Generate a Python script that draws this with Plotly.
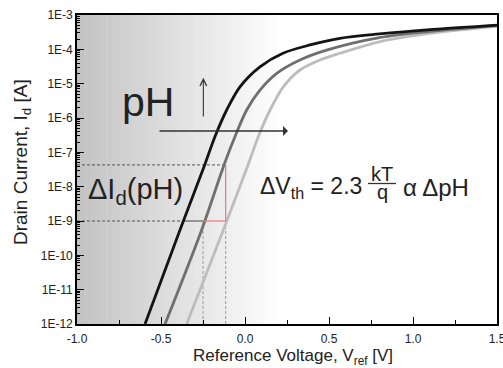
import plotly.graph_objects as go

# ---------------- data ----------------
v_black = [-0.595, -0.387, -0.24, -0.179, -0.109, -0.030, 0.089, 0.226, 0.387, 0.565, 0.80, 1.12, 1.50]
i_black = [1e-12, 5.5e-10, 4.3e-8, 2.85e-7, 1.71e-6, 8.1e-6, 3.1e-5, 7.7e-5, 1.34e-4, 2.09e-4, 2.8e-4, 3.8e-4, 5.1e-4]

v_dark = [-0.476, -0.258, -0.125, -0.060, 0.010, 0.089, 0.189, 0.327, 0.486, 0.80, 1.12, 1.50]
i_dark = [1e-12, 5.5e-10, 4.3e-8, 2.85e-7, 1.71e-6, 6.5e-6, 2.0e-5, 4.9e-5, 9.5e-5, 2.2e-4, 3.4e-4, 4.9e-4]

v_light = [-0.347, -0.129, 0.018, 0.079, 0.149, 0.228, 0.327, 0.446, 0.565, 0.80, 1.12, 1.50]
i_light = [1e-12, 5.5e-10, 4.3e-8, 2.85e-7, 1.71e-6, 8.1e-6, 2.5e-5, 4.9e-5, 7.7e-5, 1.66e-4, 3.0e-4, 4.7e-4]

# reference construction lines
i_upper = 4.3e-8
i_lower = 1e-9
v_black_at_lower = -0.37
v_left_mark = -0.25
v_right_mark = -0.115

y_tick_vals = [1e-12, 1e-11, 1e-10, 1e-9, 1e-8, 1e-7, 1e-6, 1e-5, 1e-4, 1e-3]
y_tick_text = ["1E-12", "1E-11", "1E-10", "1E-9", "1E-8", "1E-7", "1E-6", "1E-5", "1E-4", "1E-3"]
x_tick_vals = [-1.0, -0.5, 0.0, 0.5, 1.0, 1.5]
x_tick_text = ["-1.0", "-0.5", "0.0", "0.5", "1.0", "1.5"]

# ---------------- layout geometry (pixels) ----------------
L, R, T, B = 77, 497, 15, 324
W, H = 503, 368
def px(x):
    return (x - L) / (R - L)
def py(y):
    return (B - y) / (B - T)

FONT = "Liberation Sans, Arial, sans-serif"

fig = go.Figure()

# background gradient as thin vertical strips
shapes = []
n_strips = 122
g_start, g_end = -1.0, 0.22
c0, c1 = 194, 255
for k in range(n_strips):
    xa = g_start + (g_end - g_start) * k / n_strips
    xb = g_start + (g_end - g_start) * (k + 1) / n_strips + 0.003
    f = (k + 0.5) / n_strips
    c = int(round(c0 + (c1 - c0) * f))
    shapes.append(dict(type="rect", xref="x", yref="paper", x0=xa, x1=xb, y0=0, y1=1,
                       fillcolor=f"rgb({c},{c},{c})", line=dict(width=0), layer="below"))

# fraction bar for kT/q
shapes.append(dict(type="line", xref="paper", yref="paper", x0=px(368), x1=px(396),
                   y0=py(183.5), y1=py(183.5), line=dict(color="#333333", width=1.3)))

# construction lines
def seg(xs, ys, color, width=1, dash=None):
    fig.add_trace(go.Scatter(x=xs, y=ys, mode="lines", hoverinfo="skip", showlegend=False,
                             line=dict(color=color, width=width, dash=dash)))

seg([-1.0, v_right_mark], [i_upper, i_upper], "#555555", 1, "3px,2px")
seg([-1.0, v_black_at_lower], [i_lower, i_lower], "#555555", 1, "3px,2px")
seg([v_black_at_lower, v_left_mark], [i_lower, i_lower], "#444444", 1)
seg([v_left_mark, v_left_mark], [1e-12, i_lower], "#9a9a9a", 1, "3px,2px")
seg([v_right_mark, v_right_mark], [1e-12, i_lower], "#9a9a9a", 1, "3px,2px")

# curves
for xs, ys, col in [(v_light, i_light, "#bdbdbd"), (v_dark, i_dark, "#6f6f6f"), (v_black, i_black, "#141414")]:
    fig.add_trace(go.Scatter(x=xs, y=ys, mode="lines", showlegend=False, hoverinfo="skip",
                             line=dict(color=col, width=2.8, shape="spline", smoothing=0.9)))

# red triangle
seg([v_right_mark, v_right_mark], [i_lower, i_upper], "#e87878", 1.2)
seg([v_left_mark, v_right_mark], [i_lower, i_lower], "#e87878", 1.2)

annotations = []
txtcol = "#222222"
annotations.append(dict(xref="paper", yref="paper", x=px(120), y=py(102), text="pH",
                        showarrow=False, xanchor="left", yanchor="middle",
                        font=dict(family=FONT, size=41, color=txtcol)))
annotations.append(dict(xref="paper", yref="paper", x=px(86), y=py(191), text="ΔI<sub>d</sub>(pH)",
                        showarrow=False, xanchor="left", yanchor="middle",
                        font=dict(family=FONT, size=29, color=txtcol)))
annotations.append(dict(xref="paper", yref="paper", x=px(364), y=py(187), text="ΔV<sub>th</sub> = 2.3",
                        showarrow=False, xanchor="right", yanchor="middle",
                        font=dict(family=FONT, size=23, color=txtcol)))
annotations.append(dict(xref="paper", yref="paper", x=px(382), y=py(173.5), text="kT",
                        showarrow=False, xanchor="center", yanchor="middle",
                        font=dict(family=FONT, size=20, color=txtcol)))
annotations.append(dict(xref="paper", yref="paper", x=px(382), y=py(192), text="q",
                        showarrow=False, xanchor="center", yanchor="middle",
                        font=dict(family=FONT, size=20, color=txtcol)))
annotations.append(dict(xref="paper", yref="paper", x=px(401), y=py(187), text="α ΔpH",
                        showarrow=False, xanchor="left", yanchor="middle",
                        font=dict(family=FONT, size=24, color=txtcol)))
# arrows
annotations.append(dict(xref="x", yref="y", axref="x", ayref="y", x=0.256, y=-6.38, ax=-0.518, ay=-6.38,
                        text="", showarrow=True, arrowhead=1, arrowsize=1.1, arrowwidth=1.5,
                        arrowcolor="#333333"))
annotations.append(dict(xref="x", yref="y", axref="x", ayref="y", x=-0.248, y=-4.83, ax=-0.248, ay=-6.0,
                        text="", showarrow=True, arrowhead=5, arrowsize=1.2, arrowwidth=1.1,
                        arrowcolor="#333333"))
# axis titles
annotations.append(dict(xref="paper", yref="paper", x=px(22), y=py(162),
                        text="Drain Current, I<sub>d</sub> [A]", textangle=-90, showarrow=False,
                        xanchor="center", yanchor="middle", font=dict(family=FONT, size=19, color=txtcol)))
annotations.append(dict(xref="paper", yref="paper", x=px(293), y=py(357),
                        text="Reference Voltage, V<sub>ref</sub> [V]", showarrow=False,
                        xanchor="center", yanchor="middle", font=dict(family=FONT, size=17, color=txtcol)))

minor_vals = []
for e in range(-12, -3):
    for m in range(2, 10):
        minor_vals.append(m * 10.0 ** e)

fig.update_layout(
    width=W, height=H, margin=dict(l=L, r=W - R, t=T, b=H - B, autoexpand=False),
    paper_bgcolor="white", plot_bgcolor="white",
    shapes=shapes, annotations=annotations, showlegend=False,
    xaxis=dict(range=[-1.0, 1.5], tickvals=x_tick_vals, ticktext=x_tick_text, ticks="inside",
               ticklen=7, tickwidth=1.2, tickcolor="black", showline=True, linecolor="black",
               linewidth=1.6, mirror=True, showgrid=False, zeroline=False,
               ticklabeloverflow="allow", automargin=False,
               tickfont=dict(family=FONT, size=12, color="#222"), ticklabelstandoff=3,
               minor=dict(tickvals=[-0.75, -0.25, 0.25, 0.75, 1.25], ticks="inside", ticklen=4,
                          tickwidth=1.1, tickcolor="black")),
    yaxis=dict(type="log", range=[-12, -3], tickvals=y_tick_vals, ticktext=y_tick_text,
               ticks="inside", ticklen=7, tickwidth=1.2, tickcolor="black", showline=True,
               linecolor="black", linewidth=1.6, mirror=True, showgrid=False, zeroline=False,
               automargin=False,
               tickfont=dict(family=FONT, size=12, color="#222"),
               minor=dict(tickvals=minor_vals, ticks="inside", ticklen=3, tickwidth=1,
                          tickcolor="black")),
)

fig.write_html("out.html")
